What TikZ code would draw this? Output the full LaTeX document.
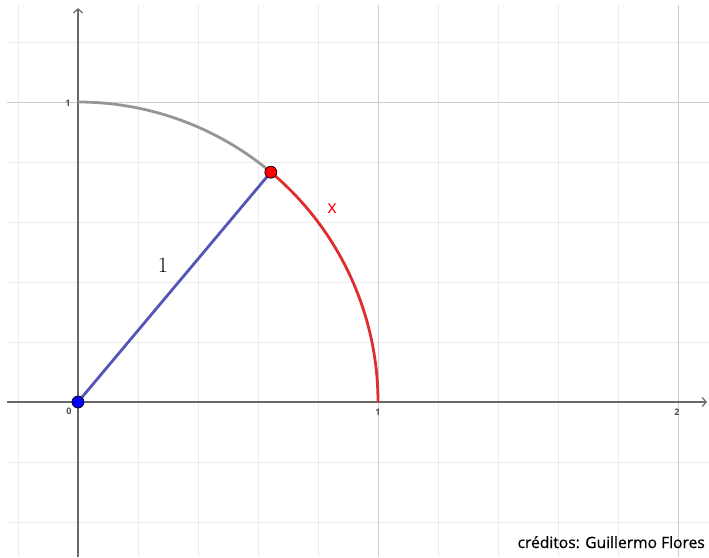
\documentclass[tikz,border=0pt]{standalone}
\usepackage{fontspec}
\setmainfont{Open Sans}
\usetikzlibrary{arrows.meta}
\definecolor{minorgrid}{RGB}{236,236,236}
\definecolor{majorgrid}{RGB}{205,205,205}
\definecolor{axiscol}{RGB}{105,105,105}
\definecolor{grayarc}{RGB}{150,150,150}
\definecolor{redarc}{RGB}{222,45,45}
\definecolor{bluesegment}{RGB}{85,85,185}
\definecolor{ticklab}{RGB}{80,80,80}
\tikzset{
  minorline/.style={draw=minorgrid, line width=0.8pt},
  majorline/.style={draw=majorgrid, line width=0.8pt},
  axisline/.style={draw=axiscol, line width=1.6pt, -{Straight Barb[length=4pt,width=9pt,line width=1.2pt]}},
  ticklabel/.style={text=ticklab, font=\fontsize{9}{10}\selectfont\bfseries, inner sep=0pt},
  ptdot/.style={circle, draw=black, line width=0.7pt, minimum size=12pt, inner sep=0pt}
}
\begin{document}
\begin{tikzpicture}[x=300pt,y=300pt]
\useasboundingbox (-0.26,-0.516667) rectangle (2.103333,1.34);
% minor grid
\foreach \i in {-1,1,2,3,4,6,7,8,9} {
  \draw[minorline] (\i*0.2,-0.516667) -- (\i*0.2,1.323);
}
\foreach \j in {-2,-1,1,2,3,4,6} {
  \draw[minorline] (-0.2367,\j*0.2) -- (2.10333,\j*0.2);
}
% major grid
\draw[majorline] (1,-0.516667) -- (1,1.323);
\draw[majorline] (2,-0.516667) -- (2,1.323);
\draw[majorline] (-0.2367,1) -- (2.10333,1);
% axes
\coordinate (xs) at (-0.2367,0);
\coordinate (xe) at (2.0967,0);
\coordinate (ys) at (0,-0.516667);
\coordinate (ye) at (0,1.313);
\draw[axisline] (xs) -- (xe);
\draw[axisline] (ys) -- (ye);
% tick labels
\node[ticklabel] (ty1) at (-0.0333,0.9967) {1};
\node[ticklabel] (t0) at (-0.03,-0.032) {0};
\node[ticklabel] (tx1) at (1,-0.0333) {1};
\node[ticklabel] (tx2) at (1.9967,-0.0333) {2};
% arcs
\coordinate (O) at (0,0);
\coordinate (P) at (50:1);
\coordinate (A) at (0,1);
\draw[grayarc, line width=2.8pt] (A) arc[start angle=90, end angle=50, radius=1];
\draw[redarc, line width=2.8pt] (P) arc[start angle=50, end angle=0, radius=1];
% segment
\draw[bluesegment, line width=2.8pt] (O) -- (P);
% points
\node[ptdot, fill=blue] (Odot) at (O) {};
\node[ptdot, fill=red] (Pdot) at (P) {};
% labels
\node[text=red, font=\fontsize{18}{20}\selectfont] (xlab) at (0.8467,0.6433) {x};
\node[font=\fontfamily{lmr}\fontsize{22}{24}\selectfont] (onelab) at (0.2833,0.4567) {1};
\node[anchor=base east, font=\addfontfeature{FakeBold=0.6}\fontsize{15.6}{18}\selectfont, inner sep=0pt] (cred) at (2.09,-0.4867) {créditos: Guillermo Flores};
\end{tikzpicture}
\end{document}
